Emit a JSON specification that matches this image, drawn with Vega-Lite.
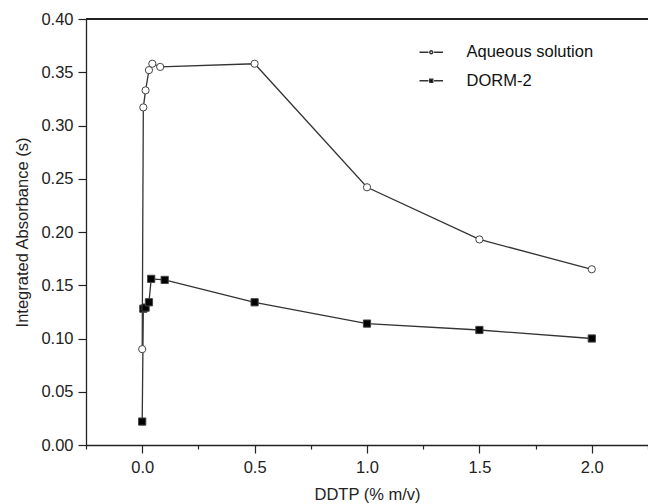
{
  "$schema": "https://vega.github.io/schema/vega-lite/v6.json",
  "width": 562,
  "height": 426,
  "autosize": {"type": "none"},
  "padding": {"left": 86, "top": 19, "right": 0, "bottom": 59},
  "background": "white",
  "config": {
    "view": {"stroke": null},
    "font": "Liberation Sans",
    "axis": {
      "domainColor": "#222",
      "domainWidth": 1.3,
      "tickColor": "#222",
      "tickWidth": 1.2,
      "labelColor": "#222",
      "titleColor": "#222",
      "labelFont": "Liberation Sans",
      "titleFont": "Liberation Sans",
      "labelFontSize": 16.5,
      "titleFontSize": 16.5,
      "titleFontWeight": "normal",
      "grid": false
    },
    "legend": {"labelFont": "Liberation Sans", "labelFontSize": 16.5, "labelColor": "#111"}
  },
  "data": {
    "values": [
      {"series": "Aqueous solution", "x": 0, "y": 0.09},
      {"series": "Aqueous solution", "x": 0.005, "y": 0.317},
      {"series": "Aqueous solution", "x": 0.015, "y": 0.333},
      {"series": "Aqueous solution", "x": 0.03, "y": 0.352},
      {"series": "Aqueous solution", "x": 0.045, "y": 0.358},
      {"series": "Aqueous solution", "x": 0.08, "y": 0.355},
      {"series": "Aqueous solution", "x": 0.5, "y": 0.358},
      {"series": "Aqueous solution", "x": 1.0, "y": 0.242},
      {"series": "Aqueous solution", "x": 1.5, "y": 0.193},
      {"series": "Aqueous solution", "x": 2.0, "y": 0.165},
      {"series": "DORM-2", "x": 0, "y": 0.022},
      {"series": "DORM-2", "x": 0.005, "y": 0.128},
      {"series": "DORM-2", "x": 0.015, "y": 0.129},
      {"series": "DORM-2", "x": 0.03, "y": 0.134},
      {"series": "DORM-2", "x": 0.04, "y": 0.156},
      {"series": "DORM-2", "x": 0.1, "y": 0.155},
      {"series": "DORM-2", "x": 0.5, "y": 0.134},
      {"series": "DORM-2", "x": 1.0, "y": 0.114},
      {"series": "DORM-2", "x": 1.5, "y": 0.108},
      {"series": "DORM-2", "x": 2.0, "y": 0.1}
    ]
  },
  "layer": [
    {
      "mark": {"type": "rule", "color": "#222", "strokeWidth": 1.3},
      "encoding": {"y": {"datum": 0.4, "type": "quantitative"}}
    },
    {
      "mark": {"type": "line", "color": "#333", "strokeWidth": 1.3},
      "encoding": {
        "x": {
          "field": "x", "type": "quantitative",
          "scale": {"domain": [-0.25, 2.25], "nice": false, "zero": false},
          "axis": {
            "title": "DDTP (% m/v)",
            "titlePadding": 11,
            "values": [-0.25, 0, 0.25, 0.5, 0.75, 1, 1.25, 1.5, 1.75, 2, 2.25],
            "labelExpr": "round(datum.value*100) % 50 == 0 ? format(datum.value, '.1f') : ''",
            "tickSize": {"condition": {"test": "round(datum.value*100) % 50 == 0", "value": 8}, "value": 4},
            "labelPadding": 6
          }
        },
        "y": {
          "field": "y", "type": "quantitative",
          "scale": {"domain": [0, 0.4], "nice": false},
          "axis": {
            "title": "Integrated Absorbance (s)",
            "titlePadding": 10,
            "values": [0, 0.025, 0.05, 0.075, 0.1, 0.125, 0.15, 0.175, 0.2, 0.225, 0.25, 0.275, 0.3, 0.325, 0.35, 0.375, 0.4],
            "labelExpr": "round(datum.value*1000) % 50 == 0 ? format(datum.value, '.2f') : ''",
            "tickSize": {"condition": {"test": "round(datum.value*1000) % 50 == 0", "value": 8}, "value": 4},
            "labelPadding": 5
          }
        },
        "detail": {"field": "series"},
        "order": {"field": "x", "type": "quantitative"}
      }
    },
    {
      "mark": {"type": "point", "filled": true, "stroke": "#444", "strokeWidth": 1, "opacity": 1, "size": 52},
      "encoding": {
        "x": {"field": "x", "type": "quantitative"},
        "y": {"field": "y", "type": "quantitative"},
        "shape": {"field": "series", "type": "nominal", "scale": {"domain": ["Aqueous solution", "DORM-2"], "range": ["circle", "square"]}, "legend": null},
        "fill": {"field": "series", "type": "nominal", "scale": {"domain": ["Aqueous solution", "DORM-2"], "range": ["white", "black"]}, "legend": null}
      }
    },
    {
      "transform": [{"filter": "datum.x > 100"}],
      "mark": {"type": "point", "filled": true, "stroke": "#333", "strokeWidth": 1, "opacity": 1, "size": 49},
      "encoding": {
        "x": {"field": "x", "type": "quantitative"},
        "y": {"field": "y", "type": "quantitative"},
        "shape": {
          "field": "series", "type": "nominal",
          "scale": {
            "domain": ["Aqueous solution", "DORM-2"],
            "range": [
              "M-3.36,0H-0.8M0.8,0H3.36M0.42,0A0.42,0.42 0 1,1 -0.42,0A0.42,0.42 0 1,1 0.42,0Z",
              "M-3.36,0H-0.8M0.8,0H3.36M-0.42,-0.42H0.42V0.42H-0.42Z"
            ]
          },
          "legend": {
            "title": null,
            "orient": "none",
            "legendX": 337,
            "legendY": 25,
            "padding": 0,
            "labelOffset": 27,
            "rowPadding": 11.5,
            "symbolSize": 49,
            "encode": {"symbols": {"update": {"stroke": {"value": "#333"}, "strokeWidth": {"value": 1.1}}}}
          }
        },
        "fill": {
          "field": "series", "type": "nominal",
          "scale": {"domain": ["Aqueous solution", "DORM-2"], "range": ["white", "black"]},
          "legend": {
            "title": null,
            "orient": "none",
            "legendX": 337,
            "legendY": 25,
            "padding": 0,
            "labelOffset": 27,
            "rowPadding": 11.5,
            "symbolSize": 49,
            "encode": {"symbols": {"update": {"stroke": {"value": "#333"}, "strokeWidth": {"value": 1.1}}}}
          }
        }
      }
    }
  ],
  "resolve": {
    "scale": {"shape": "independent", "fill": "independent"},
    "legend": {"shape": "independent", "fill": "independent"}
  }
}
